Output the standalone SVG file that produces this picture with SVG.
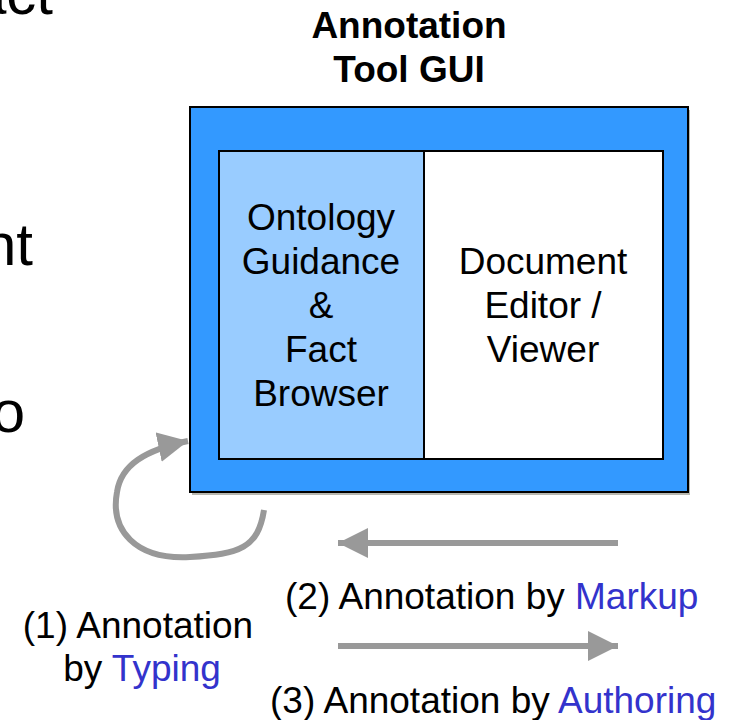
<svg xmlns="http://www.w3.org/2000/svg" width="734" height="720" viewBox="0 0 734 720">
<style>
text{font-family:"Liberation Sans",Arial,sans-serif;font-size:37px;fill:#000}
.c{text-anchor:middle}
.b{font-weight:bold}
.blue{fill:#3333CC}
.big{font-size:60px}
.arr{fill:none;stroke:#999999;stroke-width:6}
</style>
<defs>
<marker id="ah" markerUnits="userSpaceOnUse" markerWidth="32" markerHeight="32" refX="30" refY="15" orient="auto">
<path d="M0,0 L30,15 L0,30 Z" fill="#999999"/>
</marker>
</defs>
<rect width="734" height="720" fill="#fff"/>
<g id="bg-text">
<text class="big" x="53" y="14" text-anchor="end">act</text>
<text class="big" x="33" y="265" text-anchor="end">nt</text>
<text class="big" x="25" y="432" text-anchor="end">o</text>
</g>
<g id="title">
<text class="c b" x="409" y="38">Annotation</text>
<text class="c b" x="409" y="82">Tool GUI</text>
</g>
<g id="gui">
<rect x="192" y="110" width="498" height="385" fill="#b8b8b0"/>
<rect x="190" y="107" width="498" height="385" fill="#3399FF" stroke="#000" stroke-width="2"/>
</g>
<g id="ontology">
<rect x="219" y="151" width="205" height="308" fill="#99CCFF" stroke="#000" stroke-width="2"/>
<text class="c" x="321" y="230">Ontology</text>
<text class="c" x="321" y="274">Guidance</text>
<text class="c" x="321" y="318">&amp;</text>
<text class="c" x="321" y="362">Fact</text>
<text class="c" x="321" y="406">Browser</text>
</g>
<g id="editor">
<rect x="424" y="151" width="239" height="308" fill="#fff" stroke="#000" stroke-width="2"/>
<text class="c" x="543" y="274">Document</text>
<text class="c" x="543" y="318">Editor /</text>
<text class="c" x="543" y="362">Viewer</text>
</g>
<g id="connectors">
<path class="arr" d="M264 510 C258 548 240 554 190 557 C135 560 110 530 117 492 C121 465 145 450 188 441" marker-end="url(#ah)"/>
<path class="arr" d="M618 543 L338 543" marker-end="url(#ah)"/>
<path class="arr" d="M338 646 L618 646" marker-end="url(#ah)"/>
</g>
<g id="labels">
<text x="285" y="609">(2) Annotation by <tspan class="blue">Markup</tspan></text>
<text class="c" x="138" y="638">(1) Annotation</text>
<text class="c" x="142" y="681">by <tspan class="blue">Typing</tspan></text>
<text x="270" y="713">(3) Annotation by <tspan class="blue">Authoring</tspan></text>
</g>
</svg>
